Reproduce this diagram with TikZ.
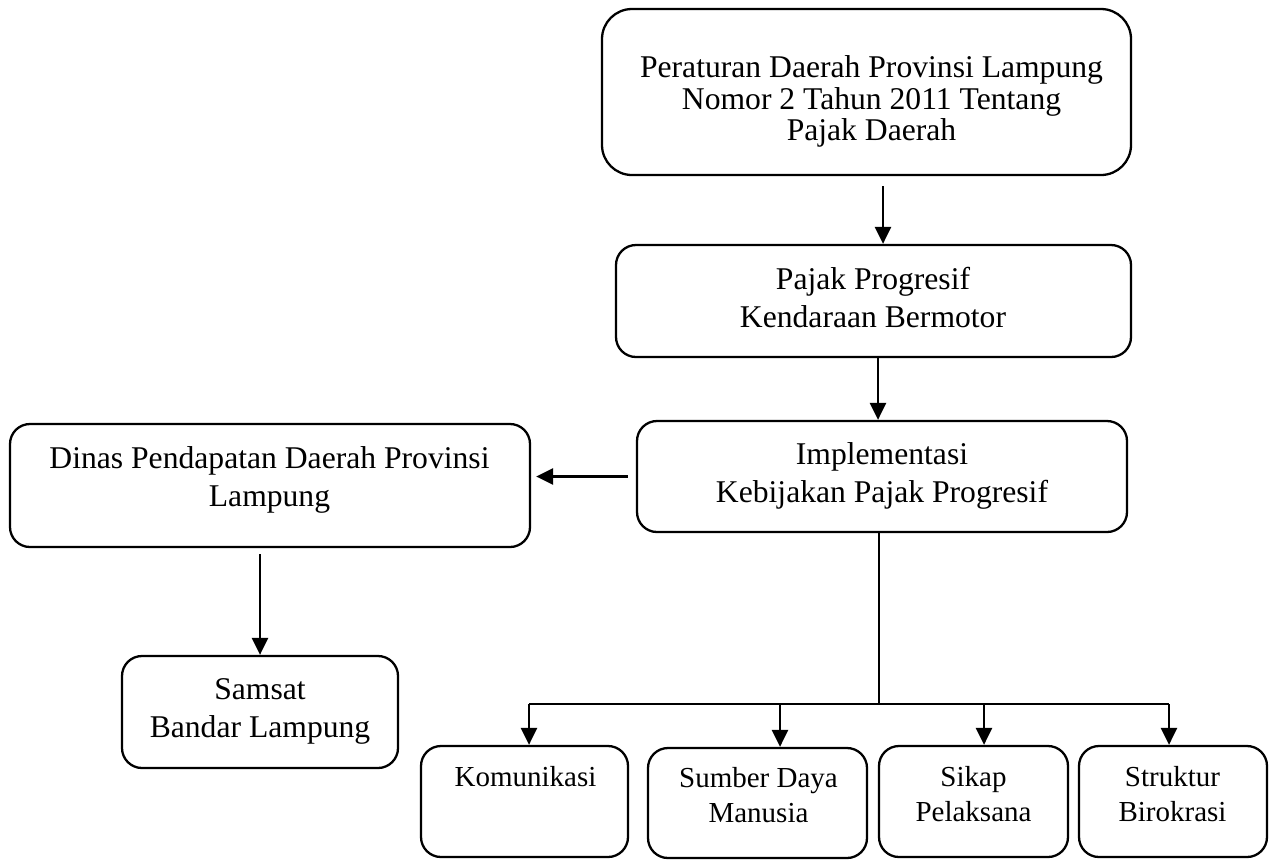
\documentclass[tikz,border=0pt]{standalone}
\usepackage{fontspec}
\setmainfont{Liberation Serif}
\usetikzlibrary{arrows.meta}
\tikzset{
	kotak/.style={draw, line width=1.3pt, rounded corners=0.4cm, inner sep=0pt},
	teks/.style={align=center, inner sep=0pt, font=\fontsize{18}{21.5}\selectfont},
	tekskecil/.style={align=center, inner sep=0pt, font=\fontsize{16.5}{19.8}\selectfont},
	panah/.style={line width=1.4pt, -{Triangle[length=0.34cm,width=0.32cm]}},
	garis/.style={line width=1.1pt},
}

\begin{document}
\begin{tikzpicture}
		\useasboundingbox (0,0) rectangle (25.38,-17.22);
		% kotak atas
		\node[kotak, rounded corners=0.6cm, minimum width=10.58cm, minimum height=3.32cm] (perda) at (17.33,-1.84) {};
		\node[teks, font=\fontsize{18}{18.1}\selectfont] (perdaT) at (17.43,-2.03) {Peraturan Daerah Provinsi Lampung\\Nomor 2 Tahun 2011 Tentang\\Pajak Daerah};
		\node[kotak, minimum width=10.30cm, minimum height=2.24cm] (pajak) at (17.47,-6.02) {};
		\node[teks] (pajakT) at (17.46,-5.95) {Pajak Progresif\\Kendaraan Bermotor};
		\node[kotak, minimum width=9.80cm, minimum height=2.22cm] (impl) at (17.64,-9.53) {};
		\node[teks] (implT) at (17.64,-9.52) {Implementasi\\Kebijakan Pajak Progresif};
		%
		\node[kotak, minimum width=10.40cm, minimum height=2.46cm] (dinas) at (5.40,-9.71) {};
		\node[teks] (dinasT) at (5.39,-9.60) {Dinas Pendapatan Daerah Provinsi\\Lampung};
		\node[kotak, minimum width=5.52cm, minimum height=2.24cm] (samsat) at (5.20,-14.24) {};
		\node[teks] (samsatT) at (5.20,-14.23) {Samsat\\Bandar Lampung};
		%
		\node[kotak, minimum width=4.14cm, minimum height=2.22cm] (kom) at (10.49,-16.03) {};
		\node[tekskecil] (komT) at (10.51,-15.54) {Komunikasi};
		\node[kotak, minimum width=4.38cm, minimum height=2.20cm] (sdm) at (15.15,-16.06) {};
		\node[tekskecil] (sdmT) at (15.17,-15.90) {Sumber Daya\\Manusia};
		\node[kotak, minimum width=3.78cm, minimum height=2.22cm] (sikap) at (19.47,-16.03) {};
		\node[tekskecil] (sikapT) at (19.47,-15.88) {Sikap\\Pelaksana};
		\node[kotak, minimum width=3.76cm, minimum height=2.22cm] (struktur) at (23.46,-16.03) {};
		\node[tekskecil] (strukturT) at (23.45,-15.88) {Struktur\\Birokrasi};
		%
		\coordinate (x1) at (17.66,0);
		\coordinate (x2) at (17.56,0);
		\coordinate (cabang) at (17.58,-14.08);
		\coordinate (b1) at (10.58,-14.08);
		\coordinate (b2) at (15.60,-14.08);
		\coordinate (b3) at (19.68,-14.08);
		\coordinate (b4) at (23.38,-14.08);
		%
		\draw[panah, shorten <=0.2cm] (perda.south -| x1) -- (pajak.north -| x1);
		\draw[panah] (pajak.south -| x2) -- (impl.north -| x2);
		\draw[panah, shorten <=0.16cm, shorten >=0.1cm] (impl.west) -- (dinas.east |- impl.west);
		\draw[panah, shorten <=0.12cm] (dinas.south -| samsat.north) -- (samsat.north);
		%
		\draw[garis] (impl.south -| cabang) -- (cabang);
		\draw[garis] (b1) -- (b4);
		\draw[panah] (b1) -- (b1 |- kom.north);
		\draw[panah] (b2) -- (b2 |- sdm.north);
		\draw[panah] (b3) -- (b3 |- sikap.north);
		\draw[panah] (b4) -- (b4 |- struktur.north);
	\end{tikzpicture}
\end{document}
